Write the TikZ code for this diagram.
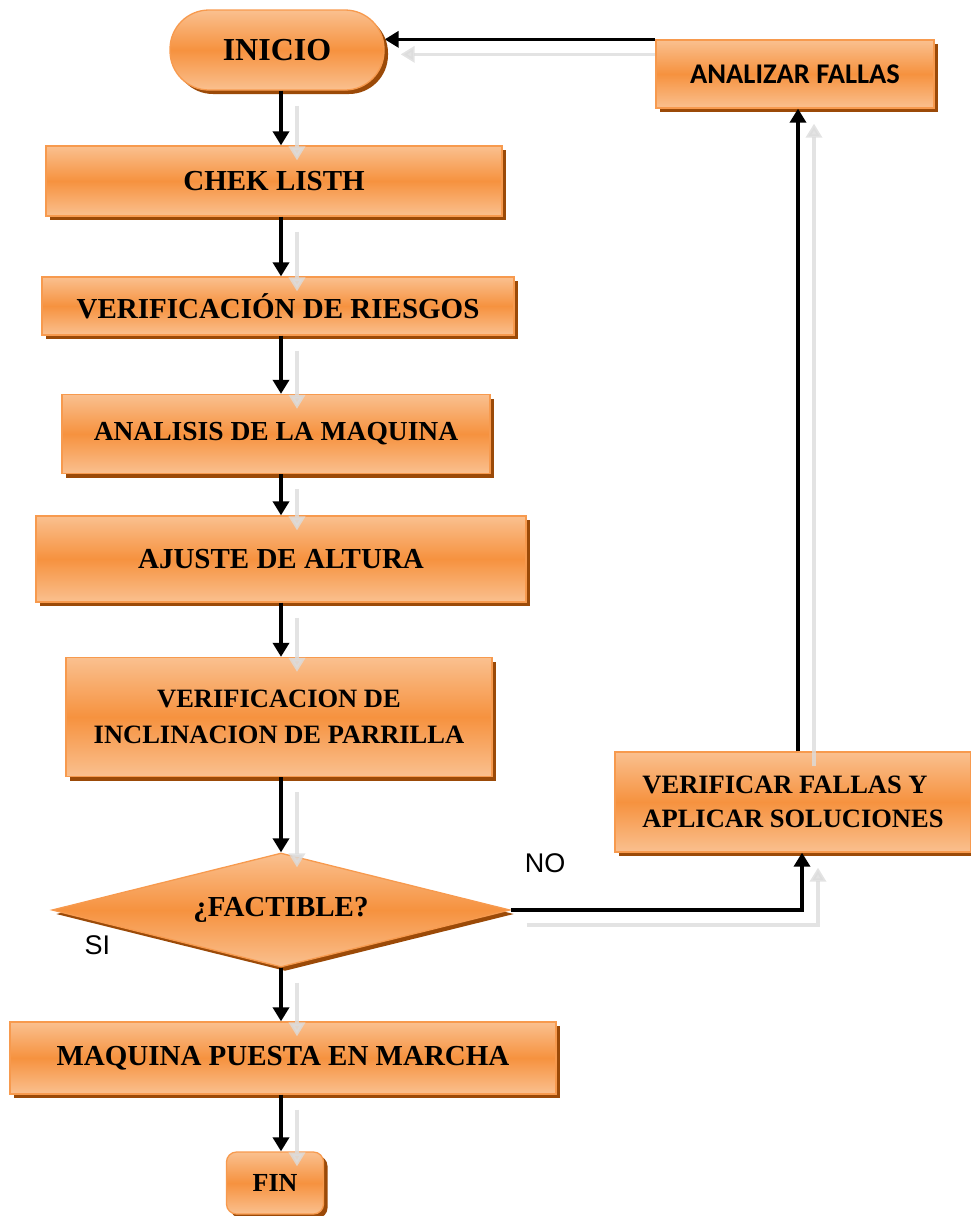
\documentclass[tikz,border=0pt]{standalone}
\usepackage{fontspec}
\setmainfont{Liberation Serif}
\newfontfamily\calibrifont{Carlito}
\newfontfamily\arialfont{Liberation Sans}
\definecolor{ofTop}{HTML}{FAC08F}
\definecolor{ofMid}{HTML}{F6923F}
\definecolor{ofLine}{HTML}{F79A4E}
\definecolor{ofShade}{HTML}{9B4A08}
\definecolor{ofGhost}{HTML}{DCDCDC}
\usetikzlibrary{shapes.geometric, arrows.meta, positioning, shadows, backgrounds}

\begin{document}
\begin{tikzpicture}[x=1pt, y=-1pt,
  box/.style={draw=ofLine, line width=1.3pt, top color=ofTop, bottom color=ofTop,
    middle color=ofMid, align=center, inner sep=0pt,
    font=\bfseries\fontsize{29}{34}\selectfont,
    drop shadow={shadow xshift=4pt, shadow yshift=-4pt, fill=ofShade, opacity=1}},
  ghost/.style={draw=ofGhost, opacity=.8, line width=3.4pt,
    -{Triangle[length=14pt, width=16pt]},
    transform canvas={shift={(16pt,-15pt)}}},
  flow/.style={preaction={ghost}, draw=black, line width=3.4pt,
    -{Triangle[length=14pt, width=16pt]}},
  lbl/.style={font=\arialfont\fontsize{27}{30}\selectfont, inner sep=0pt}]
  \useasboundingbox (0,0) rectangle (971,1216);
  \coordinate (spine) at (281,0);
  % main column
  \node[box, rounded corners=39pt, minimum width=214pt, minimum height=80pt,
    font=\bfseries\fontsize{32}{36}\selectfont] (ini) at (277,50) {INICIO};
  \node[box, minimum width=456pt, minimum height=70pt] (chk) at (274,181) {CHEK LISTH};
  \node[box, minimum width=472pt, minimum height=58pt] (rsg) at (278,306) {VERIFICACIÓN DE RIESGOS};
  \node[box, minimum width=428pt, minimum height=79pt,
    font=\bfseries\fontsize{27.5}{32}\selectfont] (maq) at (276,434) {ANALISIS DE LA MAQUINA};
  \node[box, minimum width=490pt, minimum height=86pt] (aju) at (281,559) {AJUSTE DE ALTURA};
  \node[box, minimum width=426pt, minimum height=119pt,
    font=\bfseries\fontsize{26.5}{36}\selectfont] (inc) at (279,717) {VERIFICACION DE\\INCLINACION DE PARRILLA};
  \node[box, diamond, aspect=4, minimum width=458pt, minimum height=114pt] (fac) at (281,910) {¿FACTIBLE?};
  \node[box, minimum width=546pt, minimum height=72pt] (mar) at (283,1058) {MAQUINA PUESTA EN MARCHA};
  \node[box, rounded corners=10pt, minimum width=97pt, minimum height=62pt,
    font=\bfseries\fontsize{26}{30}\selectfont] (fin) at (275,1183) {FIN};
  % loop back
  \node[box, minimum width=356pt, minimum height=100pt, align=left,
    font=\bfseries\fontsize{26.5}{34}\selectfont] (ver) at (793,802) {VERIFICAR FALLAS Y\\APLICAR SOLUCIONES};
  \node[box, minimum width=278pt, minimum height=68pt,
    font=\calibrifont\bfseries\fontsize{28.5}{32}\selectfont] (ana) at (795,74) {ANALIZAR FALLAS};
  \node[lbl, above right=37pt and 14pt of fac.east] {NO};
  \node[lbl, below right=25pt and 33pt of fac.west] {SI};
  \draw[flow] (ini.south -| spine) -- (chk.north -| spine);
  \draw[flow] (chk.south -| spine) -- (rsg.north -| spine);
  \draw[flow] (rsg.south -| spine) -- (maq.north -| spine);
  \draw[flow] (maq.south -| spine) -- (aju.north -| spine);
  \draw[flow] (aju.south -| spine) -- (inc.north -| spine);
  \draw[flow] (inc.south -| spine) -- (fac.north -| spine);
  \draw[flow] (fac.south -| spine) -- (mar.north -| spine);
  \draw[flow] (mar.south -| spine) -- (fin.north -| spine);
  \draw[flow] (fac.east) -| ([xshift=9pt]ver.south);
  \draw[flow] ([xshift=5pt]ver.north) -- ([xshift=3pt]ana.south);
  \begin{scope}[on background layer]
    \draw[flow] (ana.north west) -- (ana.north west -| ini.east);
  \end{scope}
\end{tikzpicture}
\end{document}
